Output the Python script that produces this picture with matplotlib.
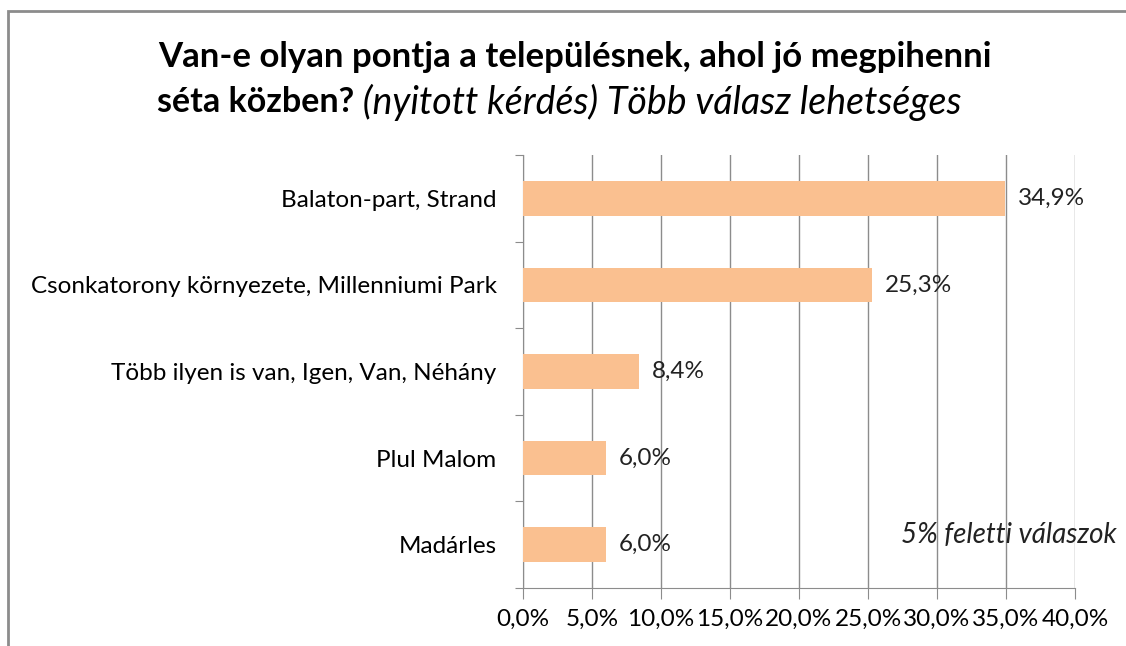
import matplotlib.pyplot as plt
from matplotlib.patches import Rectangle
from matplotlib.ticker import MultipleLocator, FuncFormatter

categories = ["Balaton-part, Strand",
              "Csonkatorony környezete, Millenniumi Park",
              "Több ilyen is van, Igen, Van, Néhány",
              "Plul Malom",
              "Madárles"]
values = [34.9, 25.3, 8.4, 6.0, 6.0]

title_line1 = "Van-e olyan pontja a településnek, ahol jó megpihenni"
title_bold2 = "séta közben?"
title_ital2 = " (nyitott kérdés) Több válasz lehetséges"
note = "5% feletti válaszok"

plt.rcParams['font.family'] = ['Lato', 'DejaVu Sans']

fig = plt.figure(figsize=(11.26, 6.46), dpi=100)
ax = fig.add_axes([523 / 1126, 58 / 646, 552 / 1126, 433 / 646])

grid_col = "#8c8c8c"
lab = 17.5
ypos = list(range(len(categories)))
ax.barh(ypos, values, height=0.4, color="#fac090", zorder=3)
ax.set_ylim(len(categories) - 0.5, -0.5)
ax.set_xlim(0, 40)
ax.xaxis.set_major_locator(MultipleLocator(5))
ax.xaxis.set_major_formatter(FuncFormatter(lambda v, p: f"{v:.1f}%".replace(".", ",")))
ax.grid(axis="x", color=grid_col, linewidth=1, zorder=0)

ax.set_yticks([y - 0.5 for y in range(len(categories) + 1)])
ax.set_yticklabels([])
ax.set_yticks(ypos, minor=True)
ax.set_yticklabels(categories, minor=True)
ax.tick_params(axis="y", which="minor", length=0, pad=19, labelsize=lab)
ax.tick_params(axis="y", which="major", length=6, color=grid_col)
ax.tick_params(axis="x", length=8, color=grid_col, labelsize=lab, pad=7)

for s in ["top", "right"]:
    ax.spines[s].set_visible(False)
for s in ["left", "bottom"]:
    ax.spines[s].set_color(grid_col)

for y, v in zip(ypos, values):
    ax.text(v + 0.95, y, f"{v:.1f}%".replace(".", ","), va="center", ha="left",
            fontsize=lab, color="#222222", zorder=4)

fig.text(1117 / 1126, 1 - 535 / 646, note, ha="right", va="center",
         style="italic", fontsize=20, color="#222222")

# frame
fig.patches.append(Rectangle((8 / 1126, -0.1), 1.2, (646 - 11) / 646 + 0.1,
                             transform=fig.transFigure, fill=False,
                             edgecolor="#8c8c8c", linewidth=2))

tsize = 25
fig.text(575 / 1126, 1 - 57 / 646, title_line1, ha="center", va="center",
         fontsize=tsize, fontweight="bold")
renderer = fig.canvas.get_renderer()
tb = fig.text(0, 1 - 102 / 646, title_bold2, ha="left", va="center",
              fontsize=24.5, fontweight="bold")
ti = fig.text(0, 1 - 102 / 646, title_ital2, ha="left", va="center",
              fontsize=27, style="italic")
wb = tb.get_window_extent(renderer).width
wi = ti.get_window_extent(renderer).width
x0 = 559 - (wb + wi) / 2
tb.set_x(x0 / 1126)
ti.set_x((x0 + wb) / 1126)

fig.savefig("out.png", dpi=100)
